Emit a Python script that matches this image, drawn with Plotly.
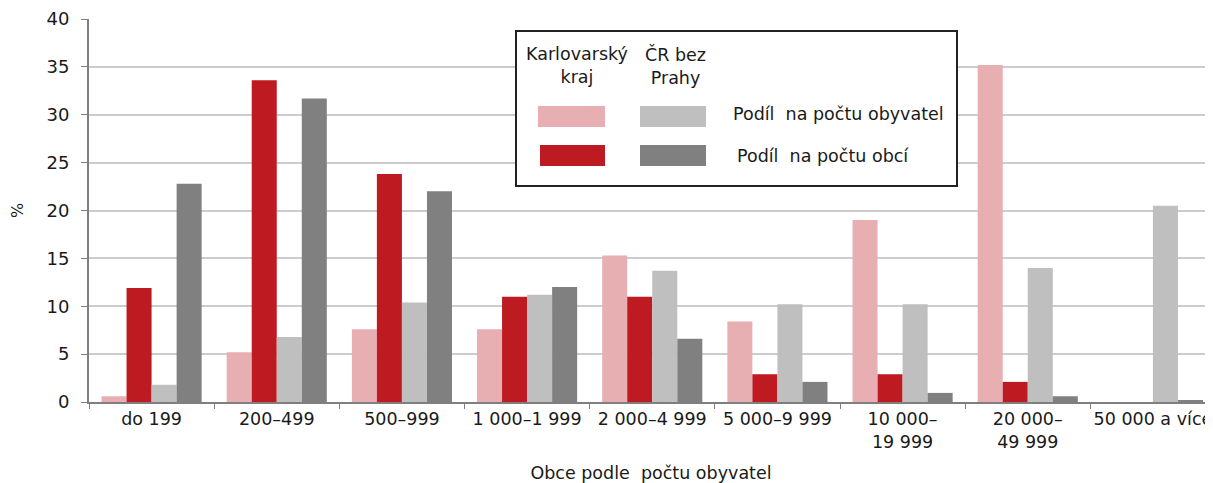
import plotly.graph_objects as go

categories = ["do 199", "200–499", "500–999", "1 000–1 999", "2 000–4 999",
              "5 000–9 999", "10 000–<br>19 999", "20 000–<br>49 999", "50 000 a více"]

kv_obyvatel = [0.6, 5.2, 7.6, 7.6, 15.3, 8.4, 19.0, 35.2, 0.0]
kv_obce = [11.9, 33.6, 23.8, 11.0, 11.0, 2.9, 2.9, 2.1, 0.0]
cr_obyvatel = [1.8, 6.8, 10.4, 11.2, 13.7, 10.2, 10.2, 14.0, 20.5]
cr_obce = [22.8, 31.7, 22.0, 12.0, 6.6, 2.1, 0.95, 0.6, 0.15]

series_names = ["Karlovarský kraj – podíl na počtu obyvatel",
                "Karlovarský kraj – podíl na počtu obcí",
                "ČR bez Prahy – podíl na počtu obyvatel",
                "ČR bez Prahy – podíl na počtu obcí"]
colors = ["#E8AFB2", "#BE1A22", "#BFBFBF", "#808080"]

FONT = "DejaVu Sans"
TXT = "#1a1a1a"

fig = go.Figure()
for name, vals, col in zip(series_names, [kv_obyvatel, kv_obce, cr_obyvatel, cr_obce], colors):
    fig.add_trace(go.Bar(x=categories, y=vals, name=name, marker_color=col,
                         marker_line_width=0, showlegend=False))

# page body has an 8px margin; figure sized to fit the 1213x483 window
fig.update_layout(
    width=1205, height=475,
    margin=dict(l=81, r=0, t=11, b=81),
    paper_bgcolor="white", plot_bgcolor="white",
    barmode="group", bargap=0.2, bargroupgap=0,
    font=dict(family=FONT, size=17, color=TXT),
)
fig.update_xaxes(
    range=[-0.5, 8.48], type="category",
    showline=True, linecolor="#7f7f7f", linewidth=2,
    ticks="outside", tickson="boundaries", ticklen=5, tickcolor="#7f7f7f",
    tickfont=dict(family=FONT, size=17.5, color=TXT),
    showgrid=False,
    title=dict(text="Obce podle  počtu obyvatel", font=dict(family=FONT, size=17.5, color=TXT), standoff=16),
)
fig.update_yaxes(
    range=[0, 40], dtick=5,
    showline=True, linecolor="#7f7f7f", linewidth=2,
    ticks="outside", ticklen=6, tickcolor="#7f7f7f",
    tickfont=dict(family=FONT, size=18, color=TXT),
    ticklabelstandoff=8,
    showgrid=True, gridcolor="#cccccc", gridwidth=1.5,
    zeroline=False,
    title=dict(text="%", font=dict(family=FONT, size=16, color=TXT), standoff=26),
)

def px_x(x):
    return (x - 89) / 1124

def px_y(y):
    return (402 - y) / 383

# custom legend box
fig.add_shape(type="rect", xref="paper", yref="paper",
              x0=px_x(516), x1=px_x(957), y0=px_y(186), y1=px_y(31),
              line=dict(color="#222222", width=2), fillcolor="white", layer="above")

swatches = [(538, 605, 106, 127, colors[0]), (540, 605, 145, 166, colors[1]),
            (640, 706, 106, 127, colors[2]), (640, 706, 145, 166, colors[3])]
for x0, x1, y0, y1, c in swatches:
    fig.add_shape(type="rect", xref="paper", yref="paper",
                  x0=px_x(x0), x1=px_x(x1), y0=px_y(y1), y1=px_y(y0),
                  line=dict(width=0), fillcolor=c, layer="above")

legend_texts = [
    (577, 66, "Karlovarský<br>kraj", "center"),
    (675, 66, "ČR bez<br>Prahy", "center"),
    (731, 114, "Podíl  na počtu obyvatel", "left"),
    (735, 156, "Podíl  na počtu obcí", "left"),
]
for x, y, t, al in legend_texts:
    fig.add_annotation(xref="paper", yref="paper", x=px_x(x), y=px_y(y), text=t,
                       showarrow=False, xanchor=al, yanchor="middle", align="center",
                       font=dict(family=FONT, size=17.5, color=TXT))

fig.write_html("out.html")
